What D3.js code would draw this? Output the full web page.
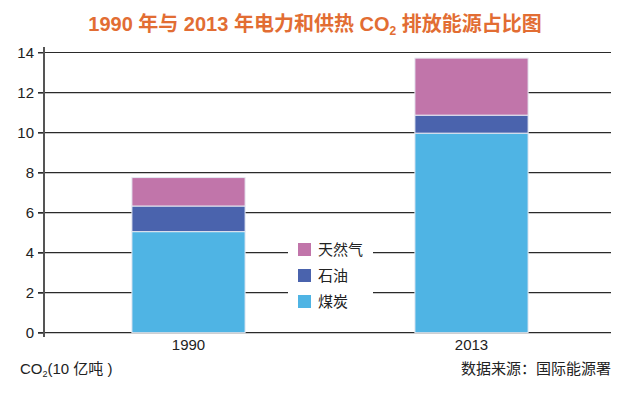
<!DOCTYPE html>
<html>
<head>
<meta charset="utf-8">
<script src="https://cdn.jsdelivr.net/npm/d3@7"></script>
<style>
  body { margin: 0; background: #fff; }
  text { font-family: "Liberation Sans", "Noto Sans CJK SC", sans-serif; }
</style>
</head>
<body>
<div id="chart"></div>
<script>

var years = ["1990", "2013"];
var coal = [5.05, 9.97];
var oil = [1.28, 0.9];
var gas = [1.42, 2.85];
var seriesNames = ["煤炭", "石油", "天然气"];
var seriesColors = ["#4fb4e4", "#4a63ad", "#c175aa"];
var yTicks = [0, 2, 4, 6, 8, 10, 12, 14];

var width = 629, height = 399;

var svg = d3.select("#chart")
    .append("svg")
    .attr("width", width)
    .attr("height", height);

svg.append("rect")
    .attr("width", "100%")
    .attr("height", "100%")
    .attr("fill", "white");

// title
svg.append("text")
    .attr("x", 315)
    .attr("y", 31)
    .attr("text-anchor", "middle")
    .style("font-size", "20px")
    .style("font-weight", "bold")
    .style("fill", "#e26d33")
    .html('1990 年与 2013 年电力和供热 CO<tspan font-size="12px" dy="4">2</tspan><tspan dy="-4"> 排放能源占比图</tspan>');

var y = d3.scaleLinear().domain([0, 14]).range([332.7, 52.5]);
var x = d3.scaleBand().domain(years).range([47, 613]).paddingInner(0.6).paddingOuter(0.3);

// gridlines
svg.append("g")
    .selectAll("line")
    .data(yTicks)
    .enter().append("line")
    .attr("x1", 38)
    .attr("x2", 611)
    .attr("y1", function(d) { return y(d); })
    .attr("y2", function(d) { return y(d); })
    .style("stroke", "#2a2a2a")
    .style("stroke-width", "1.2px");

// stacked bars
var rows = years.map(function(yr, i) {
    return { year: yr, coal: coal[i], oil: oil[i], gas: gas[i] };
});
var stack = d3.stack().keys(["coal", "oil", "gas"]);
var layers = stack(rows);

svg.append("g")
    .selectAll("g")
    .data(layers)
    .enter().append("g")
    .style("fill", function(d, i) { return seriesColors[i]; })
    .selectAll("rect")
    .data(function(d) { return d; })
    .enter().append("rect")
    .attr("x", function(d) { return x(d.data.year); })
    .attr("width", x.bandwidth())
    .attr("y", function(d) { return y(d[1]); })
    .attr("height", function(d) { return y(d[0]) - y(d[1]); })
    .style("stroke", "#e6e9f2")
    .style("stroke-width", "1px");

// y axis
var yAxis = svg.append("g")
    .attr("transform", "translate(44,0)")
    .call(d3.axisLeft(y).tickValues(yTicks).tickSize(6).tickPadding(4));
yAxis.select(".domain").remove();
yAxis.selectAll(".tick line").style("stroke", "#333");
yAxis.selectAll("text")
    .style("font-size", "15px")
    .style("fill", "#222")
    .style("font-family", "'Liberation Sans', sans-serif");

svg.append("line")
    .attr("x1", 44).attr("x2", 44)
    .attr("y1", 47).attr("y2", 337)
    .style("stroke", "#555")
    .style("stroke-width", "2px");

// x labels
svg.append("g")
    .selectAll("text")
    .data(years)
    .enter().append("text")
    .attr("x", function(d) { return x(d) + x.bandwidth() / 2; })
    .attr("y", 350)
    .attr("text-anchor", "middle")
    .style("font-size", "15px")
    .style("fill", "#222")
    .text(function(d) { return d; });

// legend
svg.append("rect")
    .attr("x", 288).attr("y", 236)
    .attr("width", 85).attr("height", 78)
    .attr("fill", "white");

var legendOrder = [2, 1, 0];
var legend = svg.append("g")
    .selectAll("g")
    .data(legendOrder)
    .enter().append("g")
    .attr("transform", function(d, i) { return "translate(298," + (243 + i * 26) + ")"; });

legend.append("rect")
    .attr("width", 13)
    .attr("height", 13)
    .attr("fill", function(d) { return seriesColors[d]; });

legend.append("text")
    .attr("x", 20)
    .attr("y", 12)
    .style("font-size", "15px")
    .style("fill", "#222")
    .text(function(d) { return seriesNames[d]; });

// unit and source
svg.append("text")
    .attr("x", 20)
    .attr("y", 374)
    .style("font-size", "15px")
    .style("fill", "#222")
    .html('CO<tspan font-size="9px" dy="3">2</tspan><tspan dy="-3">(10 亿吨 )</tspan>');

svg.append("text")
    .attr("x", 611)
    .attr("y", 374)
    .attr("text-anchor", "end")
    .style("font-size", "15px")
    .style("fill", "#222")
    .text("数据来源：国际能源署");

</script>
</body>
</html>
